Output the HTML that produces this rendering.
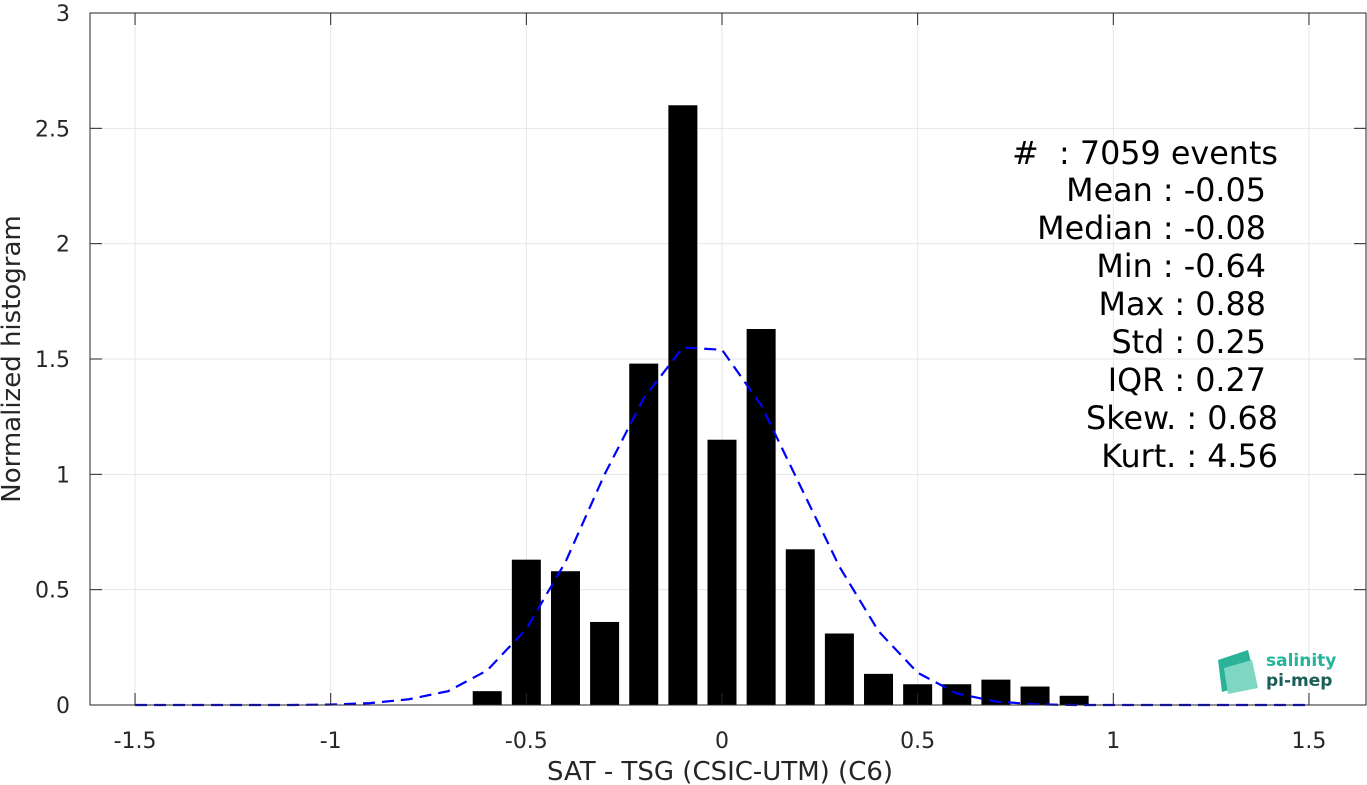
<!DOCTYPE html>
<html><head><meta charset="utf-8"><style>
body{margin:0;background:#fff;}
svg{display:block;font-family:"DejaVu Sans","Liberation Sans",sans-serif;}
text{white-space:pre;}
</style></head><body>
<svg id="chart" width="1367" height="785">
<g id="grid"></g>
<g id="bars"></g>
<path id="fit" fill="none" stroke="#0000ff" stroke-width="2.2" stroke-dasharray="12,7"/>
<rect x="90" y="13" width="1276" height="692" fill="none" stroke="#262626" stroke-width="1"/>
<g id="axes"></g>
<text x="720" y="780" font-size="26" fill="#262626" text-anchor="middle">SAT - TSG (CSIC-UTM) (C6)</text>
<text transform="translate(20,359) rotate(-90)" font-size="26" fill="#262626" text-anchor="middle">Normalized histogram</text>
<g font-size="31.8" fill="#000" text-anchor="end">
<text x="1278" y="164">#  : 7059 events</text>
<text x="1266" y="201">Mean : -0.05</text>
<text x="1266" y="239">Median : -0.08</text>
<text x="1266" y="277">Min : -0.64</text>
<text x="1266" y="315">Max : 0.88</text>
<text x="1266" y="353">Std : 0.25</text>
<text x="1266" y="391">IQR : 0.27</text>
<text x="1278" y="429">Skew. : 0.68</text>
<text x="1278" y="467">Kurt. : 4.56</text>
</g>
<g>
<polygon points="1218,660 1248,650 1256,682 1222,692" fill="#2bb39a"/>
<polygon points="1224,668 1252,660 1258,688 1228,694" fill="#7fd6c2"/>
<text x="1266" y="666" font-size="17" font-weight="bold" fill="#22b59a">salinity</text>
<text x="1266" y="686" font-size="17" font-weight="bold" fill="#1b5e57">pi-mep</text>
</g>
</svg>
<script>
const binCenters=[-0.6,-0.5,-0.4,-0.3,-0.2,-0.1,0,0.1,0.2,0.3,0.4,0.5,0.6,0.7,0.8,0.9];
const binValues=[0.06,0.63,0.58,0.36,1.48,2.6,1.15,1.63,0.675,0.31,0.135,0.09,0.09,0.11,0.08,0.04];
const fitX=[-1.5,-1.4,-1.3,-1.2,-1.1,-1.0,-0.9,-0.8,-0.7,-0.6,-0.5,-0.4,-0.3,-0.2,-0.1,0,0.1,0.2,0.3,0.4,0.5,0.6,0.7,0.8,0.9,1.0,1.1,1.2,1.3,1.4,1.5];
const fitY=[0,0,0,0,0,0.002,0.008,0.025,0.06,0.15,0.33,0.62,1.0,1.33,1.55,1.54,1.3,0.95,0.6,0.32,0.14,0.05,0.015,0.003,0,0,0,0,0,0,0];
const xTicks=[-1.5,-1,-0.5,0,0.5,1,1.5];
const xTickLabels=["-1.5","-1","-0.5","0","0.5","1","1.5"];
const yTicks=[0,0.5,1,1.5,2,2.5,3];
const yTickLabels=["0","0.5","1","1.5","2","2.5","3"];
const NS="http://www.w3.org/2000/svg";
const X=v=>722+v*391.3, Y=v=>705-v*230.67;
function mk(tag,attrs,parent){const e=document.createElementNS(NS,tag);for(const k in attrs)e.setAttribute(k,attrs[k]);parent.appendChild(e);return e;}
const grid=document.getElementById('grid'),axes=document.getElementById('axes'),bars=document.getElementById('bars');
xTicks.forEach((t,i)=>{
  const g=mk('line',{x1:X(t),x2:X(t),y1:13,y2:705,stroke:'#e6e6e6'},grid);
  
  
  mk('line',{x1:X(t),x2:X(t),y1:705,y2:693,stroke:'#262626'},axes);
  mk('line',{x1:X(t),x2:X(t),y1:13,y2:25,stroke:'#262626'},axes);
  const l=mk('text',{x:X(t),y:748,'font-size':22,fill:'#262626','text-anchor':'middle'},axes);
  l.textContent=xTickLabels[i];
  
  
});
yTicks.forEach((t,i)=>{
  const g=mk('line',{x1:90,x2:1366,y1:Y(t),y2:Y(t),stroke:'#e6e6e6'},grid);
  
  
  mk('line',{x1:90,x2:102,y1:Y(t),y2:Y(t),stroke:'#262626'},axes);
  mk('line',{x1:1354,x2:1366,y1:Y(t),y2:Y(t),stroke:'#262626'},axes);
  const l=mk('text',{x:70,y:Y(t)+8,'font-size':22,fill:'#262626','text-anchor':'end'},axes);
  l.textContent=yTickLabels[i];
  
  
});
binCenters.forEach((c,i)=>{
  const b=mk('rect',{x:X(c)-14.5,y:Y(binValues[i]),width:29,height:Y(0)-Y(binValues[i]),fill:'#000'},bars);
  
  
});
document.getElementById('fit').setAttribute('d',fitX.map((x,i)=>(i?'L':'M')+X(x)+','+Y(fitY[i])).join(' '));
</script>
</body></html>
